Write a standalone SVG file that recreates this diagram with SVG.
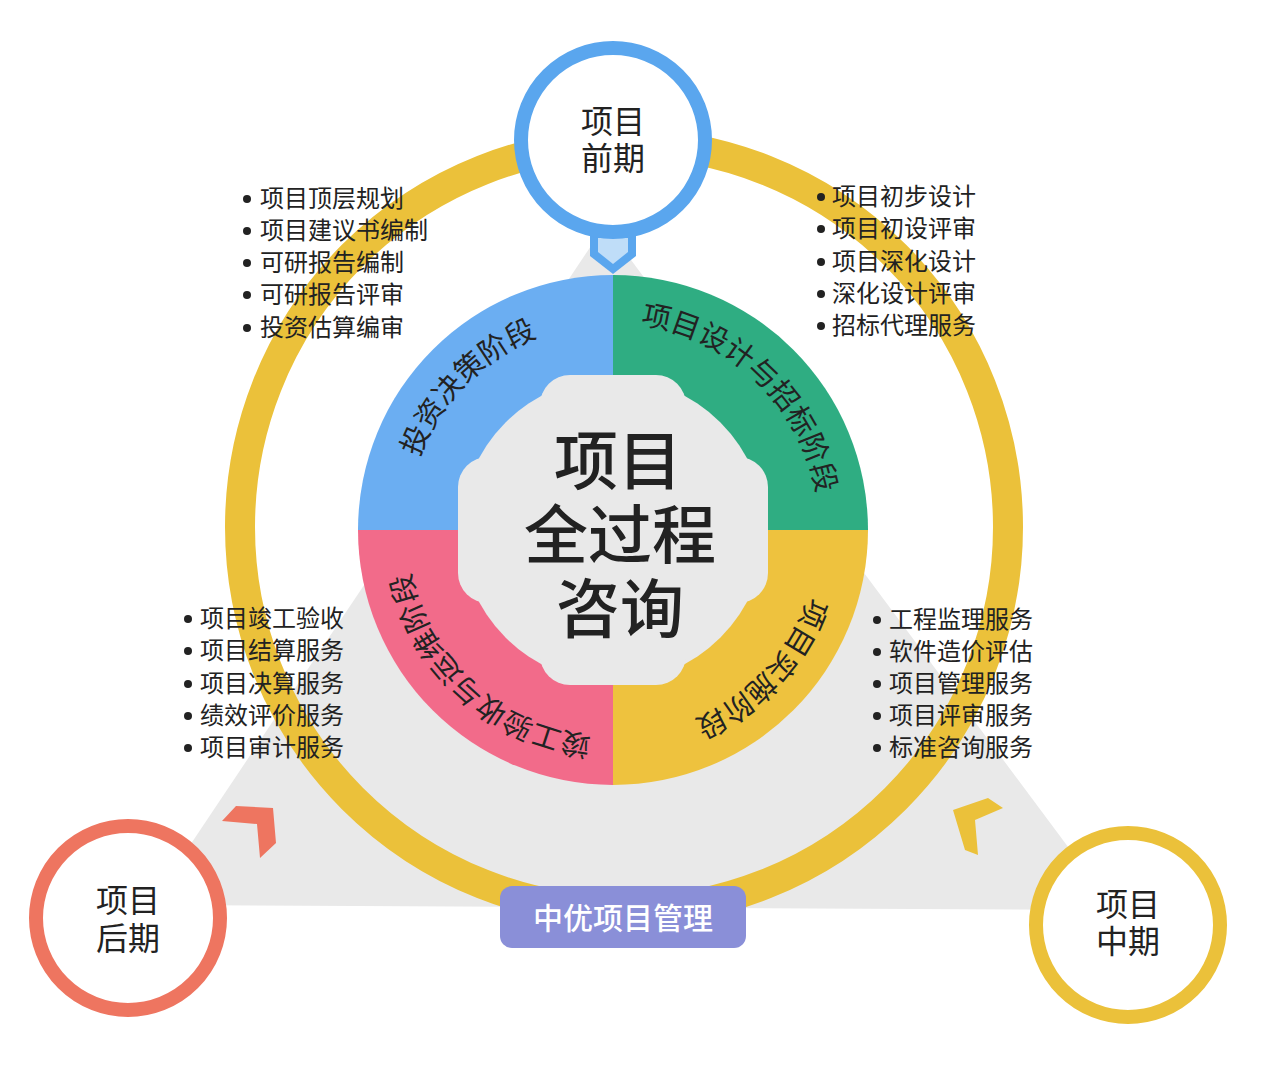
<svg xmlns="http://www.w3.org/2000/svg" width="1284" height="1080" viewBox="0 0 1284 1080">
<defs>
<style>
.t{font-family:"Noto Sans CJK SC","Noto Sans",sans-serif;fill:#222}
.li{font-size:24px}
.arc{font-size:29px}
.cl{font-size:32px;text-anchor:middle}
</style>
<path id="tp" d="M 406 530 A 207 207 0 1 1 820 530 A 207 207 0 1 1 406 530"/>
</defs>
<rect width="1284" height="1080" fill="#fff"/>
<polygon points="605,225 150,905 1115,910" fill="#E9E9E9"/>
<g id="ring"><circle cx="624" cy="527" r="384" fill="none" stroke="#EBC13A" stroke-width="30"/></g>
<g id="wheel">
<path d="M613 530 L613 275 A255 255 0 0 0 358 530 Z" fill="#6BAEF2"/>
<path d="M613 530 L613 275 A255 255 0 0 1 868 530 Z" fill="#2FAD82"/>
<path d="M613 530 L868 530 A255 255 0 0 1 613 785 Z" fill="#EEC23E"/>
<path d="M613 530 L613 785 A255 255 0 0 1 358 530 Z" fill="#F26B8A"/>
<circle cx="613" cy="530" r="152" fill="#E9E9E9"/>
<rect x="540" y="375" width="146" height="310" rx="30" fill="#E9E9E9"/>
<rect x="458" y="457" width="310" height="146" rx="30" fill="#E9E9E9"/>
<text class="t arc"><textPath href="#tp" startOffset="161" text-anchor="middle">投资决策阶段</textPath></text>
<text class="t arc"><textPath href="#tp" startOffset="483" text-anchor="middle">项目设计与招标阶段</textPath></text>
<text class="t arc"><textPath href="#tp" startOffset="805" text-anchor="middle">项目实施阶段</textPath></text>
<text class="t arc"><textPath href="#tp" startOffset="1127" text-anchor="middle">竣工验收与运维阶段</textPath></text>
<g class="t" style="font-size:64px;text-anchor:middle;font-weight:500">
<text x="618" y="484">项目</text><text x="620" y="558">全过程</text><text x="620" y="632">咨询</text>
</g>
</g>
<g id="top">
<polygon points="590,236 636,236 636,256 613,274 590,256" fill="#5AA6EE"/>
<polygon points="598,238 628,238 628,252 613,264 598,252" fill="#BFDDF8"/>
<circle cx="613" cy="140" r="92" fill="#fff" stroke="#5AA6EE" stroke-width="14"/>
<text class="t cl" x="613" y="133">项目</text><text class="t cl" x="613" y="170">前期</text>
</g>
<g id="left">
<circle cx="128" cy="918" r="92" fill="#fff" stroke="#EE7560" stroke-width="14"/>
<text class="t cl" x="128" y="912">项目</text><text class="t cl" x="128" y="950">后期</text>
<polygon points="222,821 236,806 273,808 276,843 260,858 257,824" fill="#EE7560"/>
</g>
<g id="right">
<circle cx="1128" cy="925" r="92" fill="#fff" stroke="#EBC13A" stroke-width="14"/>
<text class="t cl" x="1128" y="916">项目</text><text class="t cl" x="1128" y="953">中期</text>
<polygon points="953,810 988,798 1003,808 975,820 978,855 965,850" fill="#EBC13A"/>
</g>
<g id="label">
<rect x="500" y="886" width="246" height="62" rx="12" fill="#8A8FD8"/>
<text x="623" y="929" style="font-family:'Noto Sans CJK SC',sans-serif;font-size:30px;fill:#fff;text-anchor:middle;font-weight:500">中优项目管理</text>
</g>
<g id="lists" class="t li">
<g fill="#222"><circle cx="247" cy="199" r="4"/><circle cx="247" cy="231" r="4"/><circle cx="247" cy="263" r="4"/><circle cx="247" cy="295" r="4"/><circle cx="247" cy="328" r="4"/>
<circle cx="821" cy="197" r="4"/><circle cx="821" cy="229" r="4"/><circle cx="821" cy="262" r="4"/><circle cx="821" cy="294" r="4"/><circle cx="821" cy="326" r="4"/>
<circle cx="188" cy="619" r="4"/><circle cx="188" cy="651" r="4"/><circle cx="188" cy="684" r="4"/><circle cx="188" cy="716" r="4"/><circle cx="188" cy="748" r="4"/>
<circle cx="877" cy="620" r="4"/><circle cx="877" cy="652" r="4"/><circle cx="877" cy="684" r="4"/><circle cx="877" cy="716" r="4"/><circle cx="877" cy="748" r="4"/></g>
<text x="260" y="207">项目顶层规划</text><text x="260" y="239">项目建议书编制</text><text x="260" y="271">可研报告编制</text><text x="260" y="303">可研报告评审</text><text x="260" y="336">投资估算编审</text>
<text x="832" y="205">项目初步设计</text><text x="832" y="237">项目初设评审</text><text x="832" y="270">项目深化设计</text><text x="832" y="302">深化设计评审</text><text x="832" y="334">招标代理服务</text>
<text x="200" y="627">项目竣工验收</text><text x="200" y="659">项目结算服务</text><text x="200" y="692">项目决算服务</text><text x="200" y="724">绩效评价服务</text><text x="200" y="756">项目审计服务</text>
<text x="889" y="628">工程监理服务</text><text x="889" y="660">软件造价评估</text><text x="889" y="692">项目管理服务</text><text x="889" y="724">项目评审服务</text><text x="889" y="756">标准咨询服务</text>
</g>
</svg>
